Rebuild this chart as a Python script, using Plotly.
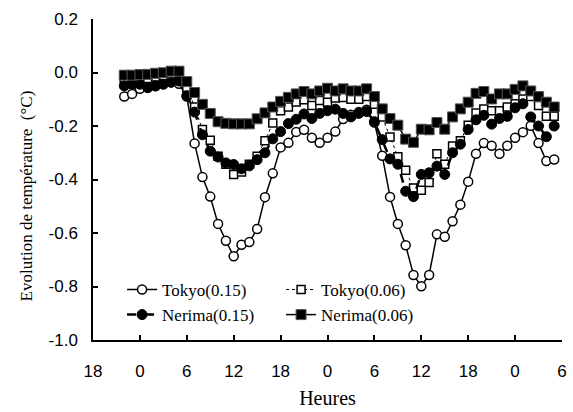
import plotly.graph_objects as go

hours = list(range(4, 60))

tokyo_015 = [-0.090, -0.080, -0.061, -0.056, -0.051, -0.042, -0.037, -0.042, -0.090, -0.265,
             -0.391, -0.464, -0.566, -0.629, -0.687, -0.644, -0.634, -0.585, -0.466, -0.377,
             -0.280, -0.263, -0.222, -0.214, -0.244, -0.263, -0.244, -0.221, -0.174, -0.158,
             -0.148, -0.139, -0.187, -0.311, -0.465, -0.566, -0.646, -0.757, -0.799, -0.757,
             -0.605, -0.614, -0.556, -0.494, -0.408, -0.304, -0.264, -0.274, -0.304, -0.274,
             -0.244, -0.223, -0.199, -0.264, -0.331, -0.325]

tokyo_006 = [-0.022, -0.022, -0.017, -0.022, -0.017, -0.012, -0.008, -0.008, -0.056, -0.129,
             -0.213, -0.253, -0.313, -0.343, -0.381, -0.372, -0.343, -0.313, -0.255, -0.189,
             -0.143, -0.129, -0.110, -0.102, -0.123, -0.105, -0.111, -0.095, -0.093, -0.100,
             -0.100, -0.090, -0.119, -0.166, -0.241, -0.315, -0.365, -0.432, -0.440, -0.411,
             -0.304, -0.343, -0.275, -0.255, -0.197, -0.151, -0.136, -0.143, -0.143, -0.129,
             -0.117, -0.099, -0.090, -0.123, -0.164, -0.164]

nerima_015 = [-0.050, -0.044, -0.044, -0.057, -0.050, -0.044, -0.036, -0.032, -0.087, -0.148,
              -0.233, -0.294, -0.316, -0.338, -0.344, -0.360, -0.349, -0.326, -0.300, -0.248,
              -0.221, -0.191, -0.175, -0.155, -0.172, -0.153, -0.143, -0.137, -0.153, -0.166,
              -0.153, -0.146, -0.184, -0.251, -0.323, -0.343, -0.444, -0.464, -0.381, -0.375,
              -0.350, -0.381, -0.300, -0.268, -0.213, -0.177, -0.160, -0.193, -0.172, -0.164,
              -0.132, -0.117, -0.166, -0.200, -0.240, -0.200]

nerima_006 = [-0.010, -0.010, -0.008, -0.007, -0.003, -0.001, 0.005, 0.005, -0.034, -0.075,
              -0.119, -0.153, -0.184, -0.190, -0.192, -0.192, -0.192, -0.173, -0.151, -0.129,
              -0.108, -0.093, -0.080, -0.071, -0.080, -0.069, -0.059, -0.069, -0.061, -0.069,
              -0.069, -0.061, -0.090, -0.136, -0.172, -0.197, -0.249, -0.261, -0.212, -0.214,
              -0.187, -0.212, -0.166, -0.136, -0.111, -0.078, -0.071, -0.099, -0.080, -0.080,
              -0.063, -0.050, -0.069, -0.090, -0.111, -0.129]

x_tickvals = list(range(0, 61, 6))
x_ticktext = ["18", "0", "6", "12", "18", "0", "6", "12", "18", "0", "6"]
y_tickvals = [-1.0, -0.8, -0.6, -0.4, -0.2, 0.0, 0.2]
y_ticktext = ["-1.0", "-0.8", "-0.6", "-0.4", "-0.2", "0.0", "0.2"]

fig = go.Figure()
fig.add_trace(go.Scatter(x=hours, y=tokyo_015, name="Tokyo(0.15)", mode="lines+markers",
                         line=dict(color="black", width=1.5),
                         marker=dict(symbol="circle", size=9, color="white",
                                     line=dict(color="black", width=1.5))))
fig.add_trace(go.Scatter(x=hours, y=tokyo_006, name="Tokyo(0.06)", mode="lines+markers",
                         line=dict(color="black", width=1, dash="dot"),
                         marker=dict(symbol="square", size=8, color="white",
                                     line=dict(color="black", width=1.5))))
fig.add_trace(go.Scatter(x=hours, y=nerima_015, name="Nerima(0.15)", mode="lines+markers",
                         line=dict(color="black", width=2.5, dash="dash"),
                         marker=dict(symbol="circle", size=10, color="black",
                                     line=dict(color="black", width=1))))
fig.add_trace(go.Scatter(x=hours, y=nerima_006, name="Nerima(0.06)", mode="lines+markers",
                         line=dict(color="black", width=1.5),
                         marker=dict(symbol="square", size=10, color="black",
                                     line=dict(color="#555", width=1))))

fig.update_layout(
    width=573, height=412,
    margin=dict(l=93, r=6, t=19, b=63),
    paper_bgcolor="white", plot_bgcolor="white",
    showlegend=True,
    legend=dict(orientation="h", x=0.062, y=0.212, xanchor="left", yanchor="top",
                entrywidth=114, entrywidthmode="pixels",
                font=dict(family="Liberation Serif", size=17, color="black"),
                bgcolor="rgba(0,0,0,0)"),
    xaxis=dict(range=[0, 60], tickvals=x_tickvals, ticktext=x_ticktext,
               showgrid=False, zeroline=False, showline=True, linecolor="black", linewidth=1.5,
               ticks="inside", ticklen=5, tickwidth=1.5, tickcolor="black",
               ticklabelstandoff=15, ticklabeloverflow="allow",
               tickfont=dict(family="Liberation Sans", size=17, color="black"),
               title=dict(text="Heures", font=dict(family="Liberation Serif", size=20, color="black"),
                          standoff=11)),
    yaxis=dict(range=[-1.0, 0.2], tickvals=y_tickvals, ticktext=y_ticktext,
               showgrid=False, zeroline=False, showline=True, linecolor="black", linewidth=1.5,
               ticks="inside", ticklen=5, tickwidth=1.5, tickcolor="black",
               ticklabelstandoff=10,
               tickfont=dict(family="Liberation Sans", size=17, color="black")),
    annotations=[dict(text="Evolution de température  (°C)", textangle=-90,
                      xref="paper", yref="paper", x=-0.141, y=0.45,
                      xanchor="center", yanchor="middle", showarrow=False,
                      font=dict(family="Liberation Serif", size=17, color="black"))],
)

fig.write_html("out.html", config={"displayModeBar": False},
               post_script="document.body.style.margin='0px';")
